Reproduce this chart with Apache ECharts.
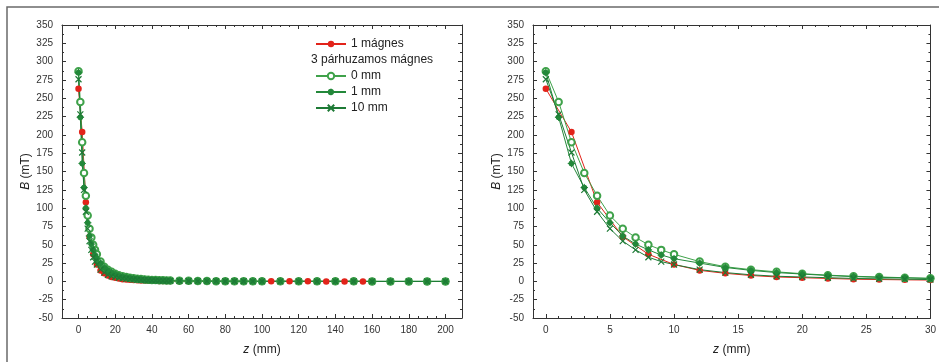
<!DOCTYPE html>
<html>
<head>
<meta charset="utf-8">
<script src="https://cdn.jsdelivr.net/npm/echarts@6/dist/echarts.min.js"></script>
<style>
  html, body { margin: 0; padding: 0; background: #fff; }
  #chart { width: 939px; height: 362px; }
</style>
</head>
<body>
<div id="chart"></div>
<script>
// Axial field B(z) of one magnet vs. three parallel magnets at different spacings
var zGreen = [0,1,2,3,4,5,6,7,8,9,10,
  12,14,16,18,20,22,24,26,28,30,32,34,36,38,40,42,44,46,48,50,
  55,60,65,70,75,80,85,90,95,100,
  110,120,130,140,150,160,170,180,190,200];
var zRed = [0,2,4,6,8,10,12,14,16,18,20,22,24,26,28,30,32,34,36,38,40,42,44,46,48,50,
  55,60,65,70,75,80,85,90,95,100,105,110,115,120,125,130,135,140,145,150,155];

var bOneMagnet = [263,204,108,61,37,23,15,11,8,6,5,4,3,2.5,2.1,1.8,1.5,1.3,1.1,1.0,0.8,0.7,0.6,0.5,0.5,0.4,
  0.3,0.3,0.2,0.2,0.1,0.1,0.1,0.1,0.1,0.1,0.1,0.1,0.1,0.1,0.1,0,0,0,0,0,0];
var b0mm = [287,245,190,148,117,90,72,60,50,43,37,
  27,20,16,13,10.5,8.5,7,6,5,4.2,3.6,3.1,2.7,2.3,2.0,1.8,1.6,1.4,1.2,1.1,
  0.9,0.7,0.5,0.4,0.3,0.3,0.2,0.2,0.2,0.1,
  0.1,0.1,0.1,0.1,0.1,0,0,0,0,0];
var b1mm = [285,224,161,128,100,80,62,51,43,36,31,
  25,19,15,12,10,8,6.5,5.5,4.8,4.0,3.5,3.0,2.6,2.2,1.9,1.7,1.5,1.3,1.2,1.0,
  0.8,0.6,0.5,0.4,0.3,0.2,0.2,0.2,0.1,0.1,
  0.1,0.1,0.1,0.1,0.1,0,0,0,0,0];
var b10mm = [276,228,176,125,95,72,55,43,33,27,23,
  16,12,9,7,6,5,4,3.5,3,2.5,2.2,1.9,1.7,1.5,1.3,1.2,1.0,0.9,0.8,0.7,
  0.6,0.5,0.4,0.3,0.3,0.2,0.2,0.2,0.1,0.1,
  0.1,0.1,0.1,0.1,0.1,0,0,0,0,0];

var yTicks = { min: -50, max: 350, step: 25 };
var leftXLabels = [0,20,40,60,80,100,120,140,160,180,200];
var rightXLabels = [0,5,10,15,20,25,30];

function range(a, b, s) { var r = []; for (var v = a; v <= b + 1e-9; v += s) r.push(v); return r; }
function zip(xs, ys) { return xs.map(function (x, i) { return [x, ys[i]]; }); }

var FONT = 'Liberation Sans, Arial, sans-serif';
var AX = '#333';

function xAxes(gridIndex, min, max, majors, minors) {
  var base = { type: 'value', gridIndex: gridIndex, min: min, max: max, splitLine: { show: false } };
  return [
    Object.assign({}, base, {
      position: 'bottom',
      axisLine: { show: true, onZero: false, lineStyle: { color: AX, width: 1 } },
      axisTick: { show: true, inside: true, length: 4, customValues: majors, lineStyle: { color: AX } },
      axisLabel: { show: true, customValues: majors, margin: 7, color: '#333', fontSize: 10, fontFamily: FONT },
      name: '{i|z} (mm)', nameLocation: 'middle', nameGap: 26,
      nameTextStyle: { color: '#222', fontSize: 12, fontFamily: FONT,
        rich: { i: { fontStyle: 'italic', fontSize: 12, fontFamily: FONT, color: '#222' } } }
    }),
    Object.assign({}, base, {
      position: 'bottom',
      axisLine: { show: false, onZero: false },
      axisTick: { show: true, inside: true, length: 2, customValues: minors, lineStyle: { color: AX } },
      axisLabel: { show: false }
    }),
    Object.assign({}, base, {
      position: 'top',
      axisLine: { show: true, onZero: false, lineStyle: { color: AX, width: 1 } },
      axisTick: { show: true, inside: true, length: 4, customValues: majors, lineStyle: { color: AX } },
      axisLabel: { show: false }
    }),
    Object.assign({}, base, {
      position: 'top',
      axisLine: { show: false, onZero: false },
      axisTick: { show: true, inside: true, length: 2, customValues: minors, lineStyle: { color: AX } },
      axisLabel: { show: false }
    })
  ];
}

function yAxes(gridIndex) {
  var base = { type: 'value', gridIndex: gridIndex, min: yTicks.min, max: yTicks.max, interval: yTicks.step,
    splitLine: { show: false },
    minorTick: { show: true, splitNumber: 2, length: 2, lineStyle: { color: AX } } };
  return [
    Object.assign({}, base, {
      position: 'left',
      axisLine: { show: true, onZero: false, lineStyle: { color: AX, width: 1 } },
      axisTick: { show: true, inside: true, length: 4, lineStyle: { color: AX } },
      axisLabel: { show: true, margin: 9, color: '#333', fontSize: 10, fontFamily: FONT },
      name: '{i|B} (mT)', nameLocation: 'middle', nameGap: 30, nameRotate: 90,
      nameTextStyle: { color: '#222', fontSize: 12, fontFamily: FONT,
        rich: { i: { fontStyle: 'italic', fontSize: 12, fontFamily: FONT, color: '#222' } } }
    }),
    Object.assign({}, base, {
      position: 'right',
      axisLine: { show: true, onZero: false, lineStyle: { color: AX, width: 1 } },
      axisTick: { show: true, inside: true, length: 4, lineStyle: { color: AX } },
      axisLabel: { show: false }
    })
  ];
}

var RED = '#e2231a';
var G0 = '#3fa24a', G1 = '#23883a', G10 = '#1d7a35';
var crossSym = 'path://M0,0L10,10M10,0L0,10';
var starSym = 'path://M5,1.6A3.4,3.4 0 1,1 4.99,1.6ZM5,0L5,10M0,5L10,5';

var seriesDefs = [
  { name: '1 mágnes', z: zRed, b: bOneMagnet, symbol: 'circle', size: 6.5,
    item: { color: RED }, line: RED },
  { name: '0 mm', z: zGreen, b: b0mm, symbol: 'emptyCircle', size: 6.5,
    item: { color: G0, borderColor: G0, borderWidth: 1 }, line: G0 },
  { name: '1 mm', z: zGreen, b: b1mm, symbol: starSym, size: 7.5,
    item: { color: G1, borderColor: G1, borderWidth: 1 }, line: G1 },
  { name: '10 mm', z: zGreen, b: b10mm, symbol: crossSym, size: 6,
    item: { color: G10, borderColor: G10, borderWidth: 1.2 }, line: G10 }
];

var series = [];
[0, 1].forEach(function (g) {
  seriesDefs.forEach(function (d) {
    series.push({
      type: 'line', name: d.name, xAxisIndex: g * 4, yAxisIndex: g * 2,
      data: zip(d.z, d.b), symbol: d.symbol, symbolSize: d.size, showSymbol: true,
      clip: true, animation: false,
      lineStyle: { color: d.line, width: 1 }, itemStyle: d.item
    });
  });
});

var chart = echarts.init(document.getElementById('chart'), null, { renderer: 'canvas' });
chart.setOption({
  backgroundColor: '#fff',
  animation: false,
  grid: [
    { left: 62, top: 25, width: 400, height: 293 },
    { left: 533, top: 25, width: 401, height: 293 }
  ],
  xAxis: xAxes(0, -9, 209, leftXLabels, range(0, 200, 5))
    .concat(xAxes(1, -1, 30, rightXLabels, range(0, 30, 1))),
  yAxis: yAxes(0).concat(yAxes(1)),
  legend: [
    { data: ['1 mágnes'], left: 315, top: 38, itemWidth: 30, itemHeight: 8, padding: 0,
      textStyle: { fontSize: 12, fontFamily: FONT, color: '#222' } },
    { data: ['0 mm', '1 mm', '10 mm'], orient: 'vertical', left: 315, top: 70, itemGap: 4,
      itemWidth: 30, itemHeight: 8, padding: 0,
      textStyle: { fontSize: 12, fontFamily: FONT, color: '#222' } }
  ],
  graphic: [
    { type: 'text', left: 311, top: 54,
      style: { text: '3 párhuzamos mágnes', fontSize: 12, fontFamily: FONT, fill: '#222' } },
    { type: 'rect', shape: { x: 7, y: 7, width: 950, height: 380 },
      style: { fill: 'none', stroke: '#6a6a6a', lineWidth: 1.5 }, silent: true }
  ],
  series: series
});
</script>
</body>
</html>
